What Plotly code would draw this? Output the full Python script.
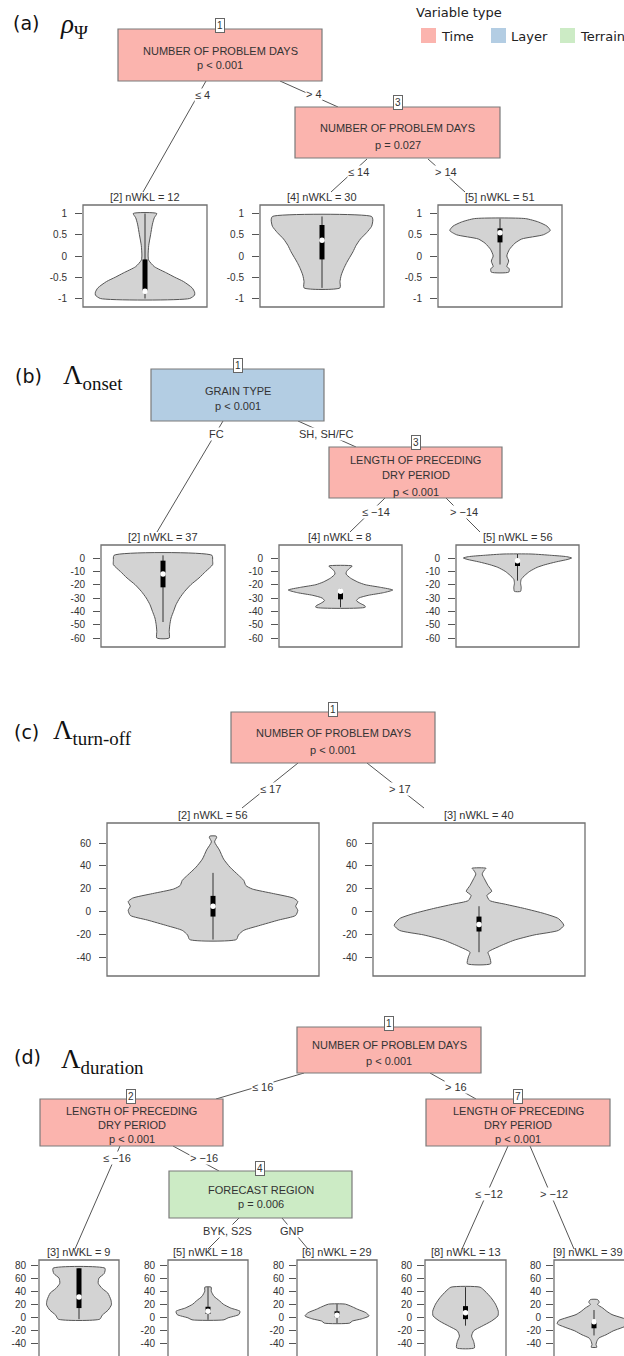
import plotly.graph_objects as go

W, H = 624, 1356

# ---------------- data ----------------
# violin half-width profiles (fraction of frame half-width) and box stats [lo, q1, med, q3, hi]
A2_Y = [1.0, 0.9, 0.75, 0.5, 0.25, 0.0, -0.1, -0.25, -0.4, -0.5, -0.6, -0.75, -0.85, -0.92, -1.0]
A2_W = [0.19, 0.15, 0.12, 0.09, 0.06, 0.05, 0.06, 0.15, 0.35, 0.48, 0.62, 0.76, 0.80, 0.80, 0.72]
A2_BOX = [-1.0, -0.85, -0.83, -0.08, 1.0]

A4_Y = [0.93, 0.85, 0.7, 0.55, 0.4, 0.25, 0.1, 0.0, -0.15, -0.3, -0.45, -0.6, -0.75]
A4_W = [0.80, 0.82, 0.80, 0.72, 0.62, 0.55, 0.50, 0.46, 0.40, 0.35, 0.31, 0.29, 0.29]
A4_BOX = [-0.75, -0.08, 0.37, 0.73, 0.93]

A5_Y = [0.88, 0.8, 0.7, 0.6, 0.5, 0.4, 0.3, 0.15, 0.0, -0.12, -0.25, -0.3, -0.38]
A5_W = [0.41, 0.62, 0.76, 0.81, 0.70, 0.35, 0.24, 0.15, 0.11, 0.14, 0.11, 0.15, 0.14]
A5_BOX = [-0.2, 0.32, 0.55, 0.65, 0.88]

B2_Y = [2, -2, -5, -10, -15, -20, -25, -30, -35, -40, -45, -50, -55, -60]
B2_W = [0.79, 0.80, 0.80, 0.69, 0.58, 0.45, 0.35, 0.27, 0.21, 0.17, 0.13, 0.11, 0.10, 0.10]
B2_BOX = [-48, -22, -12, -2, 2]

B4_Y = [-6, -8, -10, -12, -15, -18, -20, -22, -24, -26, -28, -30, -32, -34, -36, -37]
B4_W = [0.19, 0.14, 0.10, 0.09, 0.16, 0.28, 0.40, 0.65, 0.85, 0.70, 0.45, 0.30, 0.26, 0.32, 0.40, 0.40]
B4_BOX = [-37, -31, -25, -25, -23]

B5_Y = [3, 2, 1, 0, -1, -3, -5, -7, -10, -13, -16, -19, -22, -25]
B5_W = [0.22, 0.55, 0.80, 0.88, 0.82, 0.62, 0.45, 0.32, 0.20, 0.12, 0.06, 0.05, 0.06, 0.05]
B5_BOX = [-17, -6, -2, -1, 3]

C2_Y = [66, 65, 61, 54, 46, 39, 32, 27.5, 23, 20, 16, 12, 9, 5, 1.5, -3, -7, -12, -16, -20, -24]
C2_W = [0.03, 0.035, 0.015, 0.06, 0.10, 0.16, 0.24, 0.29, 0.31, 0.37, 0.57, 0.76, 0.80, 0.78, 0.80, 0.78,
        0.62, 0.43, 0.29, 0.24, 0.22]
C2_BOX = [-24, -4, 5, 14, 34]

C3_Y = [38, 36, 33, 29, 23, 18, 14.5, 10, 6.7, 3, -1.5, -5.8, -11.6, -16, -20, -24.6, -30.4, -35, -39, -45]
C3_W = [0.066, 0.047, 0.03, 0.05, 0.085, 0.12, 0.075, 0.10, 0.25, 0.43, 0.62, 0.75, 0.80, 0.75, 0.52,
        0.33, 0.18, 0.085, 0.10, 0.11]
C3_BOX = [-35, -17, -11, -4, 5]

D3_Y = [75, 67, 60, 52, 44, 37, 26, 19, 11, 3, -3]
D3_W = [0.65, 0.63, 0.50, 0.48, 0.58, 0.72, 0.80, 0.81, 0.73, 0.58, 0.52]
D3_BOX = [-3, 14, 31, 75, 75]

D5_Y = [46, 40, 32, 25, 20, 14, 9, 4, -1, -4]
D5_W = [0.08, 0.08, 0.15, 0.29, 0.38, 0.57, 0.80, 0.77, 0.50, 0.40]
D5_BOX = [-4, 5, 9, 16, 46]

D6_Y = [20, 16, 12, 7, 2, -2.5, -6, -9]
D6_W = [0.21, 0.38, 0.52, 0.72, 0.80, 0.62, 0.38, 0.32]
D6_BOX = [-9, 0, 3, 9, 20]

D8_Y = [46, 40, 30, 20, 9, 2, -6, -14, -21, -29, -37, -47]
D8_W = [0.36, 0.48, 0.63, 0.74, 0.81, 0.80, 0.64, 0.40, 0.20, 0.15, 0.20, 0.22]
D8_BOX = [-13, -3, 7, 17, 46]

D9_Y = [27, 23, 19.5, 14, 9, 4, -1, -5, -10, -16, -21, -27, -32, -37, -42, -46]
D9_W = [0.09, 0.13, 0.09, 0.22, 0.32, 0.45, 0.70, 0.88, 0.92, 0.70, 0.48, 0.30, 0.12, 0.07, 0.05, 0.07]
D9_BOX = [-28, -17, -7, -5, 11]

# tick labels per panel
A_TICKS = [1, 0.5, 0, -0.5, -1]
A_TICKTEXT = ["1", "0.5", "0", "-0.5", "-1"]
B_TICKS = [0, -10, -20, -30, -40, -50, -60]
B_TICKTEXT = ["0", "-10", "-20", "-30", "-40", "-50", "-60"]
C_TICKS = [60, 40, 20, 0, -20, -40]
C_TICKTEXT = ["60", "40", "20", "0", "-20", "-40"]
D_TICKS = [80, 60, 40, 20, 0, -20, -40]
D_TICKTEXT = ["80", "60", "40", "20", "0", "-20", "-40"]

# terminal node titles
A_TITLES = ["[2] nWKL = 12", "[4] nWKL = 30", "[5] nWKL = 51"]
B_TITLES = ["[2] nWKL = 37", "[4] nWKL = 8", "[5] nWKL = 56"]
C_TITLES = ["[2] nWKL = 56", "[3] nWKL = 40"]
D_TITLES = ["[3] nWKL = 9", "[5] nWKL = 18", "[6] nWKL = 29", "[8] nWKL = 13", "[9] nWKL = 39"]

LEGEND_LABELS = ["Time", "Layer", "Terrain"]
COL = {"Time": "#FBB4AE", "Layer": "#B3CDE3", "Terrain": "#CCEBC5"}

# ---------------- helpers ----------------
def X(p):
    return p / W


def Y(p):
    return 1 - p / H


TREE_FONT = "Liberation Sans, Arial, sans-serif"
fig = go.Figure()
shapes = []
annos = []
layout_axes = {}


def text(x, y, s, size=11, color="#333", font=TREE_FONT, xanchor="center", bg=None, border=None):
    d = dict(x=X(x), y=Y(y), xref="paper", yref="paper", text=s, showarrow=False,
             xanchor=xanchor, yanchor="middle", font=dict(size=size, color=color, family=font))
    if bg:
        d["bgcolor"] = bg
        d["borderpad"] = 0
    if border:
        d["bordercolor"] = border
        d["borderwidth"] = 1
        d["borderpad"] = 1
    annos.append(d)


def line(x0, y0, x1, y1, color="#555", width=1):
    shapes.append(dict(type="line", xref="paper", yref="paper", x0=X(x0), y0=Y(y0), x1=X(x1), y1=Y(y1),
                       line=dict(color=color, width=width)))


def edge(x0, y0, x1, y1, label, lx, ly):
    line(x0, y0, x1, y1)
    text(lx, ly, label, bg="white")


def node(x0, y0, x1, y1, kind, num, nx, ny, lines, ys):
    shapes.append(dict(type="rect", xref="paper", yref="paper", x0=X(x0), y0=Y(y0), x1=X(x1), y1=Y(y1),
                       fillcolor=COL[kind], line=dict(color="#7a7a7a", width=1.2)))
    cx = (x0 + x1) / 2
    for s, yy in zip(lines, ys):
        text(cx, yy, s)
    text(nx, ny, num, size=10, bg="white", border="#666")


idx_counter = [0]


def violin(frame, yrange, ticks, ticktext, ys, ws, box, title, xr=(-1, 1), standoff=6, ticklen=7,
           title_x=None):
    idx_counter[0] += 1
    i = idx_counter[0]
    sfx = "" if i == 1 else str(i)
    l, t, r, b = frame
    rr = min(r, W)
    layout_axes["xaxis" + sfx] = dict(domain=[X(l), X(rr)], range=list(xr), visible=False,
                                      anchor="y" + sfx, fixedrange=True)
    layout_axes["yaxis" + sfx] = dict(domain=[Y(min(b, H)), Y(t)], range=list(yrange), anchor="x" + sfx,
                                      tickmode="array", tickvals=ticks, ticktext=ticktext,
                                      ticks="outside", ticklen=ticklen, tickcolor="#555", tickwidth=1,
                                      ticklabelstandoff=standoff,
                                      showgrid=False, zeroline=False, showline=False,
                                      tickfont=dict(size=10, color="#333", family=TREE_FONT))
    shapes.append(dict(type="rect", xref="paper", yref="paper", x0=X(l), y0=Y(b), x1=X(r), y1=Y(t),
                       line=dict(color="#707070", width=1.3), fillcolor="rgba(0,0,0,0)", layer="below"))
    xa, ya = "x" + sfx, "y" + sfx
    xs = list(ws) + [-w for w in reversed(ws)] + [ws[0]]
    yy = list(ys) + list(reversed(ys)) + [ys[0]]
    fig.add_trace(go.Scatter(x=xs, y=yy, mode="lines", fill="toself", fillcolor="#D3D3D3",
                             line=dict(color="#555", width=1, shape="spline", smoothing=0.6),
                             xaxis=xa, yaxis=ya, hoverinfo="skip", showlegend=False))
    lo, q1, med, q3, hi = box
    fig.add_trace(go.Scatter(x=[0, 0], y=[lo, hi], mode="lines", line=dict(color="#333", width=1),
                             xaxis=xa, yaxis=ya, hoverinfo="skip", showlegend=False))
    fig.add_trace(go.Scatter(x=[0, 0], y=[q1, q3], mode="lines", line=dict(color="black", width=5),
                             xaxis=xa, yaxis=ya, hoverinfo="skip", showlegend=False))
    fig.add_trace(go.Scatter(x=[0], y=[med], mode="markers", marker=dict(color="white", size=5.5),
                             xaxis=xa, yaxis=ya, hoverinfo="skip", showlegend=False))
    tx = (l + r) / 2 if title_x is None else title_x
    text(tx, t - 8, title, size=11)


# ---------------- panel labels ----------------
LBL_FONT = "DejaVu Sans"
SERIF = "Liberation Serif, Times New Roman, serif"
text(26, 23, "(a)", size=19, color="#111", font=LBL_FONT)
text(58, 26, "<i>ρ</i><sub>Ψ</sub>", size=27, color="#111", font=SERIF, xanchor="left")
text(28, 376, "(b)", size=19, color="#111", font=LBL_FONT)
text(61, 377, "Λ<sub>onset</sub>", size=27, color="#111", font=SERIF, xanchor="left")
text(26, 732, "(c)", size=19, color="#111", font=LBL_FONT)
text(51, 732, "Λ<sub>turn-off</sub>", size=27, color="#111", font=SERIF, xanchor="left")
text(27, 1057, "(d)", size=19, color="#111", font=LBL_FONT)
text(59, 1061, "Λ<sub>duration</sub>", size=27, color="#111", font=SERIF, xanchor="left")

# legend
text(459, 12, "Variable type", size=13, color="#222", font=LBL_FONT)
for lab, sx in zip(LEGEND_LABELS, [421, 491, 560]):
    shapes.append(dict(type="rect", xref="paper", yref="paper", x0=X(sx), y0=Y(43), x1=X(sx + 15), y1=Y(28),
                       fillcolor=COL[lab], line=dict(width=0)))
    text(sx + 18, 36, lab, size=13, color="#222", font=LBL_FONT, xanchor="left")

# ---------------- panel (a) ----------------
edge(206, 81, 143, 192, "≤ 4", 202, 95)
edge(280, 81, 338, 107, "> 4", 314, 94)
edge(367, 159, 331, 192, "≤ 14", 358, 172)
edge(428, 159, 465, 192, "> 14", 446, 172)
node(118, 29, 322, 81, "Time", "1", 220, 26, ["NUMBER OF PROBLEM DAYS", "p < 0.001"], [51, 65])
node(295, 107, 500, 158, "Time", "3", 398, 103, ["NUMBER OF PROBLEM DAYS", "p = 0.027"], [128, 145])
A_RANGE = [-1.2, 1.2]
violin((83, 205, 207, 307), A_RANGE, A_TICKS, A_TICKTEXT, A2_Y, A2_W, A2_BOX, A_TITLES[0])
violin((260, 205, 384, 307), A_RANGE, A_TICKS, A_TICKTEXT, A4_Y, A4_W, A4_BOX, A_TITLES[1])
violin((438, 205, 562, 307), A_RANGE, A_TICKS, A_TICKTEXT, A5_Y, A5_W, A5_BOX, A_TITLES[2])

# ---------------- panel (b) ----------------
edge(223, 421, 157, 532, "FC", 216, 434)
edge(298, 421, 356, 447, "SH, SH/FC", 326, 434)
edge(385, 498, 350, 532, "≤ −14", 376, 512)
edge(446, 498, 480, 532, "> −14", 464, 512)
node(151, 369, 324, 421, "Layer", "1", 238, 365, ["GRAIN TYPE", "p < 0.001"], [391, 406])
node(329, 447, 502, 498, "Time", "3", 416, 443, ["LENGTH OF PRECEDING", "DRY PERIOD", "p < 0.001"],
     [460, 475, 492])
B_RANGE = [-66.75, 9.75]
violin((101, 545, 225, 647), B_RANGE, B_TICKS, B_TICKTEXT, B2_Y, B2_W, B2_BOX, B_TITLES[0])
violin((279, 545, 402, 647), B_RANGE, B_TICKS, B_TICKTEXT, B4_Y, B4_W, B4_BOX, B_TITLES[1])
violin((456, 545, 579, 647), B_RANGE, B_TICKS, B_TICKTEXT, B5_Y, B5_W, B5_BOX, B_TITLES[2])

# ---------------- panel (c) ----------------
edge(298, 763, 242, 808, "≤ 17", 270, 789)
edge(367, 763, 424, 808, "> 17", 400, 789)
node(231, 712, 435, 763, "Time", "1", 333, 709, ["NUMBER OF PROBLEM DAYS", "p < 0.001"], [733, 750])
C_RANGE = [-55.7, 77.4]
violin((107, 823, 319, 976), C_RANGE, C_TICKS, C_TICKTEXT, C2_Y, C2_W, C2_BOX, C_TITLES[0])
violin((373, 823, 585, 976), C_RANGE, C_TICKS, C_TICKTEXT, C3_Y, C3_W, C3_BOX, C_TITLES[1])

# ---------------- panel (d) ----------------
edge(304, 1073, 216, 1099, "≤ 16", 262, 1087)
edge(430, 1073, 476, 1099, "> 16", 456, 1087)
edge(120, 1146, 75, 1249, "≤ −16", 117, 1158)
edge(173, 1146, 219, 1171, "> −16", 204, 1158)
edge(239, 1218, 208, 1249, "BYK, S2S", 227, 1231)
edge(282, 1218, 308, 1249, "GNP", 292, 1231)
edge(508, 1146, 462, 1249, "≤ −12", 489, 1194)
edge(530, 1146, 574, 1249, "> −12", 554, 1194)
node(297, 1027, 481, 1073, "Time", "1", 389, 1023, ["NUMBER OF PROBLEM DAYS", "p < 0.001"], [1045, 1061])
node(40, 1099, 223, 1146, "Time", "2", 131, 1096, ["LENGTH OF PRECEDING", "DRY PERIOD", "p < 0.001"],
     [1111, 1125, 1139])
node(426, 1099, 610, 1146, "Time", "7", 518, 1096, ["LENGTH OF PRECEDING", "DRY PERIOD", "p < 0.001"],
     [1111, 1125, 1139])
node(169, 1171, 352, 1218, "Terrain", "4", 260, 1168, ["FORECAST REGION", "p = 0.006"], [1190, 1204])
D_RANGE = [-59.5, 87.7]
violin((39, 1260, 119, 1380), D_RANGE, D_TICKS, D_TICKTEXT, D3_Y, D3_W, D3_BOX, D_TITLES[0], standoff=3)
violin((168, 1260, 248, 1380), D_RANGE, D_TICKS, D_TICKTEXT, D5_Y, D5_W, D5_BOX, D_TITLES[1], standoff=3)
violin((297, 1260, 377, 1380), D_RANGE, D_TICKS, D_TICKTEXT, D6_Y, D6_W, D6_BOX, D_TITLES[2], standoff=3)
violin((425, 1260, 506, 1380), D_RANGE, D_TICKS, D_TICKTEXT, D8_Y, D8_W, D8_BOX, D_TITLES[3], standoff=3)
violin((554, 1260, 634, 1380), D_RANGE, D_TICKS, D_TICKTEXT, D9_Y, D9_W, D9_BOX, D_TITLES[4],
       xr=(-1, 0.75), standoff=3, title_x=588)

fig.update_layout(width=W, height=H, margin=dict(l=0, r=0, t=0, b=0), paper_bgcolor="white",
                  plot_bgcolor="rgba(0,0,0,0)", showlegend=False, shapes=shapes, annotations=annos,
                  **layout_axes)
fig.write_html("out.html", config={"displayModeBar": False},
               post_script="document.body.style.margin='0px';document.body.style.overflow='hidden';")
